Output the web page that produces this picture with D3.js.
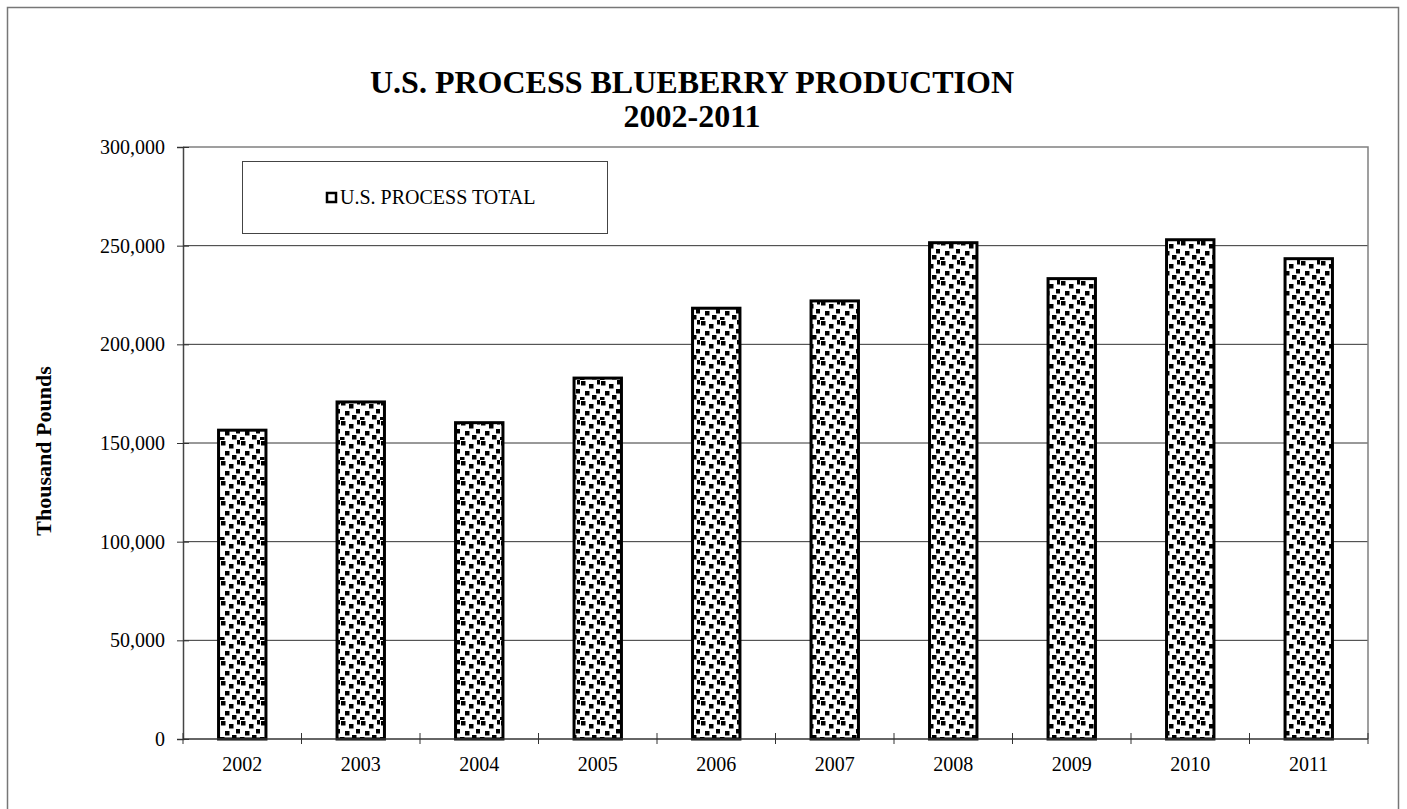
<!DOCTYPE html>
<html>
<head>
<meta charset="utf-8">
<script src="https://cdn.jsdelivr.net/npm/d3@7"></script>
<style>
  body { margin: 0; background: #fff; }
  text { font-family: "Liberation Serif", "Times New Roman", serif; }
</style>
</head>
<body>
<div id="chart"></div>
<script>
// data
var years = ["2002", "2003", "2004", "2005", "2006", "2007", "2008", "2009", "2010", "2011"];
var processTotal = [156500, 170800, 160300, 182900, 218300, 222000, 251500, 233300, 253000, 243400];
var yTicks = [0, 50000, 100000, 150000, 200000, 250000, 300000];

var width = 1407, height = 809;
var margin = {left: 183, top: 147, right: 1368, bottom: 739};

var svg = d3.select("#chart").append("svg")
    .attr("width", width)
    .attr("height", height);

// confetti fill like the excel one
var defs = svg.append("defs");
var pat = defs.append("pattern")
    .attr("id", "confetti")
    .attr("patternUnits", "userSpaceOnUse")
    .attr("width", 20).attr("height", 20);
pat.append("rect").attr("width", 20).attr("height", 20).attr("fill", "#fff");
[[1,1],[9,4],[16,9],[5,11],[12,15],[0,17],[17,0]].forEach(function(p){
    pat.append("rect").attr("x", p[0]).attr("y", p[1])
        .attr("width", 4.5).attr("height", 4.5).attr("fill", "#000");
});

// outer frame
svg.append("rect")
    .attr("x", 7.5).attr("y", 7.5)
    .attr("width", 1391).attr("height", 820)
    .attr("fill", "none").attr("stroke", "#777").attr("stroke-width", 1.5);

// title
svg.append("text").attr("x", 692).attr("y", 93)
    .attr("text-anchor", "middle").attr("font-weight", "bold").attr("font-size", 32)
    .text("U.S. PROCESS BLUEBERRY PRODUCTION");
svg.append("text").attr("x", 692).attr("y", 127)
    .attr("text-anchor", "middle").attr("font-weight", "bold").attr("font-size", 32)
    .text("2002-2011");

var x = d3.scaleBand().domain(years).range([margin.left, margin.right]).paddingInner(0.6).paddingOuter(0.3);
var xTick = d3.scaleBand().domain(years).range([margin.left, margin.right]);
var y = d3.scaleLinear().domain([0, 300000]).range([margin.bottom, margin.top]);

// gridlines
svg.append("g").selectAll("line")
    .data(yTicks.slice(1, -1))
    .enter().append("line")
    .attr("x1", margin.left).attr("x2", margin.right)
    .attr("y1", function(d){ return y(d); }).attr("y2", function(d){ return y(d); })
    .attr("stroke", "#333").attr("stroke-width", 1);

// plot border top and right
svg.append("path")
    .attr("d", "M" + margin.left + "," + margin.top + "H" + margin.right + "V" + margin.bottom)
    .attr("fill", "none").attr("stroke", "#808080").attr("stroke-width", 1.5);

// bars
svg.append("g").selectAll("rect")
    .data(processTotal)
    .enter().append("rect")
    .attr("x", function(d, i){ return x(years[i]); })
    .attr("y", function(d){ return y(d); })
    .attr("width", x.bandwidth())
    .attr("height", function(d){ return y(0) - y(d); })
    .attr("fill", "url(#confetti)")
    .attr("stroke", "#000").attr("stroke-width", 3);

// y axis
var yAxis = svg.append("g").attr("transform", "translate(" + margin.left + ",0)")
    .call(d3.axisLeft(y).tickValues(yTicks).tickSize(6).tickPadding(12)
        .tickFormat(d3.format(",")));
yAxis.select(".domain").attr("stroke", "#444").attr("stroke-width", 1.5);
yAxis.selectAll(".tick line").attr("x2", 6).attr("x1", -6).attr("stroke", "#333");
yAxis.selectAll("text").attr("font-size", 20).attr("font-family", "Liberation Serif").attr("fill", "#000");

// x axis with ticks between categories
var xAxis = svg.append("g").attr("transform", "translate(0," + margin.bottom + ")");
xAxis.append("line").attr("x1", margin.left).attr("x2", margin.right)
    .attr("stroke", "#333").attr("stroke-width", 1.5);
var bounds = years.map(function(d){ return xTick(d); }).concat([margin.right]);
xAxis.selectAll(".xt").data(bounds).enter().append("line")
    .attr("x1", function(d){ return d; }).attr("x2", function(d){ return d; })
    .attr("y1", -6).attr("y2", 5)
    .attr("stroke", "#333");
xAxis.selectAll(".xl").data(years).enter().append("text")
    .attr("x", function(d){ return xTick(d) + xTick.bandwidth() / 2; })
    .attr("y", 32)
    .attr("text-anchor", "middle").attr("font-size", 20)
    .text(function(d){ return d; });

// y axis title
svg.append("text")
    .attr("transform", "translate(51,451) rotate(-90)")
    .attr("text-anchor", "middle").attr("font-weight", "bold").attr("font-size", 22)
    .text("Thousand Pounds");

// legend
var leg = svg.append("g");
leg.append("rect").attr("x", 242.5).attr("y", 161.5).attr("width", 365).attr("height", 72)
    .attr("fill", "#fff").attr("stroke", "#444").attr("stroke-width", 1);
leg.append("rect").attr("x", 327).attr("y", 193).attr("width", 9).attr("height", 9)
    .attr("fill", "#fff").attr("stroke", "#000").attr("stroke-width", 2.5);
leg.append("text").attr("x", 340).attr("y", 204).attr("font-size", 20)
    .text("U.S. PROCESS TOTAL");
</script>
</body>
</html>
